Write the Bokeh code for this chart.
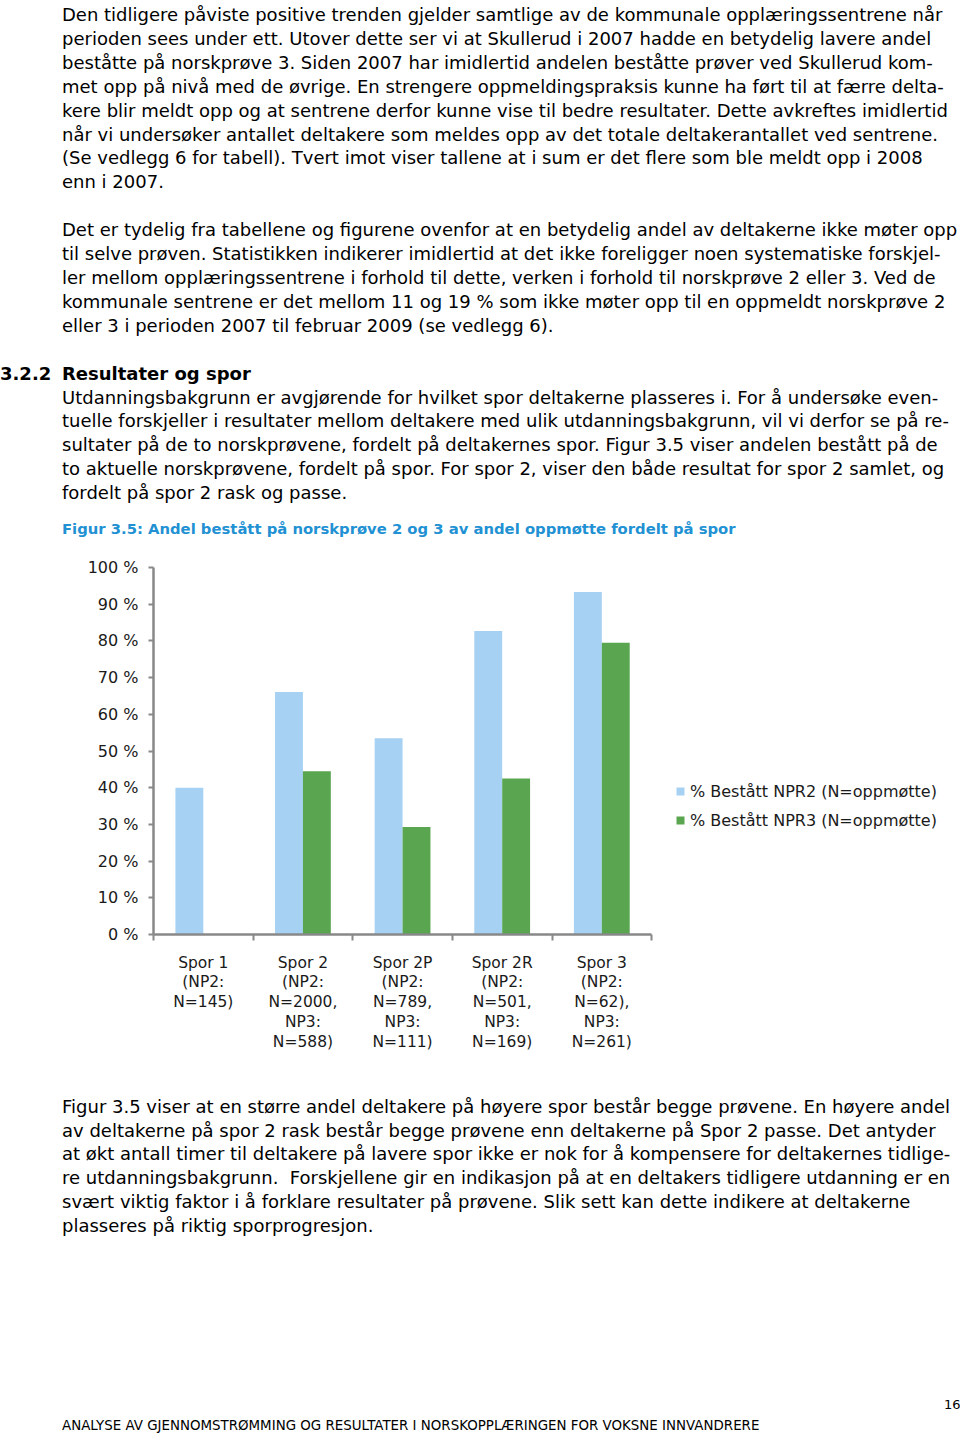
from bokeh.plotting import figure
from bokeh.models import (Range1d, FixedTicker, Legend, LegendItem, Div, ColumnDataSource)
from bokeh.layouts import column
from bokeh.embed import file_html
from bokeh.resources import INLINE

# ---------------- data ----------------
categories = ["Spor 1", "Spor 2", "Spor 2P", "Spor 2R", "Spor 3"]
category_labels = [
    "Spor 1\n(NP2:\nN=145)",
    "Spor 2\n(NP2:\nN=2000,\nNP3:\nN=588)",
    "Spor 2P\n(NP2:\nN=789,\nNP3:\nN=111)",
    "Spor 2R\n(NP2:\nN=501,\nNP3:\nN=169)",
    "Spor 3\n(NP2:\nN=62),\nNP3:\nN=261)",
]
npr2 = [40.0, 66.1, 53.5, 82.7, 93.3]
npr3 = [None, 44.5, 29.3, 42.5, 79.5]
series_names = ["% Bestått NPR2 (N=oppmøtte)", "% Bestått NPR3 (N=oppmøtte)"]
y_ticks = [0, 10, 20, 30, 40, 50, 60, 70, 80, 90, 100]
y_tick_labels = ["0 %", "10 %", "20 %", "30 %", "40 %", "50 %", "60 %", "70 %", "80 %", "90 %", "100 %"]

para1 = [
    "Den tidligere påviste positive trenden gjelder samtlige av de kommunale opplæringssentrene når",
    "perioden sees under ett. Utover dette ser vi at Skullerud i 2007 hadde en betydelig lavere andel",
    "beståtte på norskprøve 3. Siden 2007 har imidlertid andelen beståtte prøver ved Skullerud kom-",
    "met opp på nivå med de øvrige. En strengere oppmeldingspraksis kunne ha ført til at færre delta-",
    "kere blir meldt opp og at sentrene derfor kunne vise til bedre resultater. Dette avkreftes imidlertid",
    "når vi undersøker antallet deltakere som meldes opp av det totale deltakerantallet ved sentrene.",
    "(Se vedlegg 6 for tabell). Tvert imot viser tallene at i sum er det flere som ble meldt opp i 2008",
    "enn i 2007.",
]
para2 = [
    "Det er tydelig fra tabellene og figurene ovenfor at en betydelig andel av deltakerne ikke møter opp",
    "til selve prøven. Statistikken indikerer imidlertid at det ikke foreligger noen systematiske forskjel-",
    "ler mellom opplæringssentrene i forhold til dette, verken i forhold til norskprøve 2 eller 3. Ved de",
    "kommunale sentrene er det mellom 11 og 19 % som ikke møter opp til en oppmeldt norskprøve 2",
    "eller 3 i perioden 2007 til februar 2009 (se vedlegg 6).",
]
heading_num = "3.2.2"
heading_text = "Resultater og spor"
para3 = [
    "Utdanningsbakgrunn er avgjørende for hvilket spor deltakerne plasseres i. For å undersøke even-",
    "tuelle forskjeller i resultater mellom deltakere med ulik utdanningsbakgrunn, vil vi derfor se på re-",
    "sultater på de to norskprøvene, fordelt på deltakernes spor. Figur 3.5 viser andelen bestått på de",
    "to aktuelle norskprøvene, fordelt på spor. For spor 2, viser den både resultat for spor 2 samlet, og",
    "fordelt på spor 2 rask og passe.",
]
caption = "Figur 3.5: Andel bestått på norskprøve 2 og 3 av andel oppmøtte fordelt på spor"
para4 = [
    "Figur 3.5 viser at en større andel deltakere på høyere spor består begge prøvene. En høyere andel",
    "av deltakerne på spor 2 rask består begge prøvene enn deltakerne på Spor 2 passe. Det antyder",
    "at økt antall timer til deltakere på lavere spor ikke er nok for å kompensere for deltakernes tidlige-",
    "re utdanningsbakgrunn.&nbsp; Forskjellene gir en indikasjon på at en deltakers tidligere utdanning er en",
    "svært viktig faktor i å forklare resultater på prøvene. Slik sett kan dette indikere at deltakerne",
    "plasseres på riktig sporprogresjon.",
]
footer = "ANALYSE AV GJENNOMSTRØMMING OG RESULTATER I NORSKOPPLÆRINGEN FOR VOKSNE INNVANDRERE"
page_no = "16"

# ---------------- styles ----------------
FONT = "DejaVu Sans"
BLUE = "#A6D1F2"
GREEN = "#5AA550"
AXIS = "#888888"
TXT = "#1a1a1a"
LH = 23.9
FS = 18

# ---------------- top text ----------------
main_lines = para1 + [""] + para2 + [""] + ["<b>" + heading_text + "</b>"] + para3
body_html = "<br>".join(l if l else "&nbsp;" for l in main_lines)
top0 = 3.0
top_html = (
    f'<div style="position:relative;width:960px;height:548px;font-family:\'{FONT}\';color:#000;">'
    f'<div style="position:absolute;left:62px;top:{top0}px;font-size:{FS}px;line-height:{LH}px;white-space:nowrap;">{body_html}</div>'
    f'<div style="position:absolute;left:0px;top:{top0 + 15 * LH:.1f}px;font-size:{FS}px;line-height:{LH}px;font-weight:bold;white-space:nowrap;">{heading_num}</div>'
    f'<div style="position:absolute;left:62px;top:519px;font-size:14.8px;line-height:20px;font-weight:bold;color:#2191D3;white-space:nowrap;">{caption}</div>'
    '</div>'
)
top_div = Div(text=top_html, width=960, height=548, margin=0)

# ---------------- chart ----------------
p = figure(width=960, height=520, output_backend="svg", toolbar_location=None,
           x_range=Range1d(0, 8.0), y_range=Range1d(0, 100),
           min_border_left=153, min_border_right=10, min_border_top=19, min_border_bottom=134,
           margin=0)
p.outline_line_color = None
p.grid.visible = False
p.background_fill_color = "white"
p.border_fill_color = "white"

xs2 = [i + 0.5 - 0.14 for i in range(len(categories))]
src2 = ColumnDataSource(dict(x=xs2, top=npr2))
idx3 = [i for i, v in enumerate(npr3) if v is not None]
src3 = ColumnDataSource(dict(x=[i + 0.5 + 0.14 for i in idx3], top=[npr3[i] for i in idx3]))
r2 = p.vbar(x="x", top="top", bottom=0, width=0.28, source=src2, fill_color=BLUE, line_color=None)
r3 = p.vbar(x="x", top="top", bottom=0, width=0.28, source=src3, fill_color=GREEN, line_color=None)

# y axis
ya = p.yaxis[0]
ya.ticker = FixedTicker(ticks=y_ticks, minor_ticks=[])
ya.major_label_overrides = {t: l for t, l in zip(y_ticks, y_tick_labels)}
ya.axis_line_color = AXIS
ya.axis_line_width = 2.5
ya.major_tick_line_color = AXIS
ya.major_tick_line_width = 2
ya.major_tick_in = 0
ya.major_tick_out = 5
ya.minor_tick_line_color = None
ya.major_label_standoff = 10
ya.major_label_text_font = FONT
ya.major_label_text_font_size = "16px"
ya.major_label_text_color = TXT

# x axis
xa = p.xaxis[0]
centers = [i + 0.5 for i in range(len(categories))]
xa.bounds = (0, len(categories))
xa.ticker = FixedTicker(ticks=centers, minor_ticks=list(range(len(categories) + 1)))
xa.major_label_overrides = {c: l for c, l in zip(centers, category_labels)}
xa.axis_line_color = AXIS
xa.axis_line_width = 2.5
xa.major_tick_line_color = None
xa.major_tick_in = 0
xa.major_tick_out = 0
xa.minor_tick_line_color = AXIS
xa.minor_tick_line_width = 2
xa.minor_tick_in = 0
xa.minor_tick_out = 6
xa.major_label_standoff = 13
xa.major_label_text_font = FONT
xa.major_label_text_font_size = "15.5px"
xa.major_label_text_color = TXT
xa.major_label_text_line_height = 1.11

legend = Legend(items=[LegendItem(label=series_names[0], renderers=[r2]),
                       LegendItem(label=series_names[1], renderers=[r3])],
                location=(522, 104))
legend.border_line_color = None
legend.background_fill_alpha = 0
legend.padding = 0
legend.margin = 0
legend.spacing = 9
legend.label_height = 20
legend.glyph_width = 10
legend.glyph_height = 10
legend.label_standoff = 5
legend.label_text_font = FONT
legend.label_text_font_size = "16px"
legend.label_text_color = TXT
p.add_layout(legend)

# ---------------- bottom text ----------------
bottom_html = (
    f'<div style="position:relative;width:960px;height:366px;font-family:\'{FONT}\';color:#000;">'
    f'<div style="position:absolute;left:62px;top:26.6px;font-size:{FS}px;line-height:{LH}px;white-space:nowrap;">{"<br>".join(para4)}</div>'
    f'<div style="position:absolute;left:944px;top:336px;font-size:13px;line-height:1px;white-space:nowrap;">{page_no}</div>'
    f'<div style="position:absolute;left:62px;top:357px;font-size:13.4px;line-height:1px;white-space:nowrap;">{footer}</div>'
    '</div>'
)
bottom_div = Div(text=bottom_html, width=960, height=366, margin=0)

layout = column(top_div, p, bottom_div, spacing=0)

with open("out.html", "w", encoding="utf-8") as f:
    f.write(file_html(layout, INLINE))
